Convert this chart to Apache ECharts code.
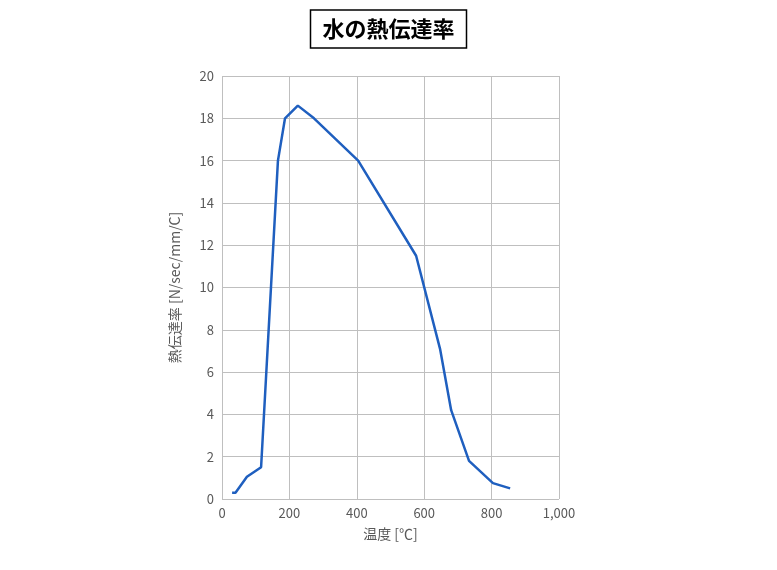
<!DOCTYPE html>
<html><head><meta charset="utf-8">
<script src="https://cdn.jsdelivr.net/npm/echarts@6/dist/echarts.min.js"></script>
<style>html,body{margin:0;padding:0;background:#fff}#c{width:777px;height:570px}</style>
</head><body><div id="c"></div>
<script>
const temps = [30, 40, 74, 116, 166, 187, 225, 273, 404, 576, 647, 680, 733, 804, 855];
const conductivity = [0.3, 0.3, 1.05, 1.5, 16, 18, 18.6, 18, 16, 11.5, 7.1, 4.2, 1.8, 0.75, 0.5];
const chart = echarts.init(document.getElementById('c'));
const font = '"Noto Sans CJK JP", sans-serif';
chart.setOption({
  animation: false,
  title: {
    text: '水の熱伝達率', left: 'center', top: 10,
    borderColor: '#000', borderWidth: 1.5, padding: [8, 12],
    textStyle: { fontFamily: font, fontSize: 22, fontWeight: 'bold', color: '#000' }
  },
  grid: { left: 222, right: 218, top: 76, bottom: 71 },
  xAxis: {
    type: 'value', min: 0, max: 1000, interval: 200,
    name: '温度 [℃]', nameLocation: 'middle', nameGap: 28,
    nameTextStyle: { fontFamily: font, fontSize: 14, color: '#595959' },
    axisLine: { show: false }, axisTick: { show: false },
    axisLabel: { color: '#595959', fontSize: 13, fontFamily: font },
    splitLine: { lineStyle: { color: '#bfbfbf', width: 1 } }
  },
  yAxis: {
    type: 'value', min: 0, max: 20, interval: 2,
    name: '熱伝達率 [N/sec/mm/C]', nameLocation: 'middle', nameGap: 40, nameRotate: 90,
    nameTextStyle: { fontFamily: font, fontSize: 14, color: '#595959' },
    axisLine: { show: false }, axisTick: { show: false },
    axisLabel: { color: '#595959', fontSize: 13, fontFamily: font },
    splitLine: { lineStyle: { color: '#bfbfbf', width: 1 } }
  },
  series: [{
    type: 'line', data: temps.map((t, i) => [t, conductivity[i]]),
    symbol: 'none', lineStyle: { color: '#1f5fbf', width: 2.5 }
  }]
});
</script></body></html>
